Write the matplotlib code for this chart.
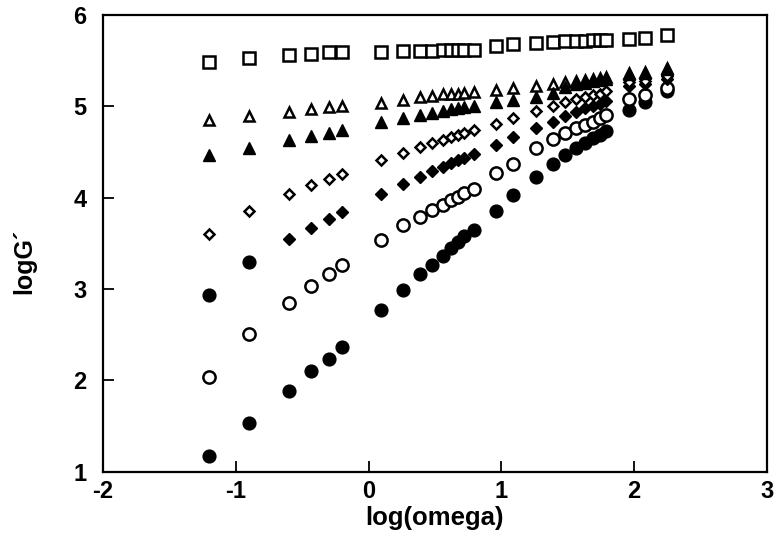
import matplotlib
matplotlib.use("Agg")
import matplotlib.pyplot as plt

plt.rcParams['font.family'] = ['Liberation Sans', 'DejaVu Sans']
plt.rcParams['font.weight'] = 'bold'
plt.rcParams['axes.unicode_minus'] = False

# log(omega) positions, five frequency sweeps
x_g1 = [-1.2, -0.9, -0.6, -0.43, -0.3, -0.2]
x_g2 = [0.09, 0.26, 0.39, 0.48, 0.56, 0.62, 0.67, 0.72, 0.79]
x_g3 = [0.96, 1.09]
x_g4 = [1.26, 1.385, 1.48, 1.56, 1.63, 1.69, 1.74, 1.79]
x_g5 = [1.96, 2.08, 2.25]
x_all = x_g1 + x_g2 + x_g3 + x_g4 + x_g5

# logG' values
sq_open = [5.49, 5.53, 5.56, 5.57, 5.59, 5.59,
           5.60, 5.61, 5.61, 5.61, 5.62, 5.62, 5.62, 5.62, 5.62,
           5.66, 5.68,
           5.69, 5.70, 5.71, 5.72, 5.72, 5.73, 5.73, 5.73,
           5.74, 5.75, 5.78]
tri_open = [4.85, 4.89, 4.94, 4.97, 4.99, 5.00,
            5.04, 5.07, 5.10, 5.11, 5.13, 5.14, 5.14, 5.15, 5.16,
            5.18, 5.20,
            5.22, 5.25, 5.27, 5.28, 5.29, 5.30, 5.31, 5.32,
            5.37, 5.38, 5.42]
tri_fill = [4.47, 4.54, 4.63, 4.68, 4.71, 4.74,
            4.83, 4.87, 4.90, 4.93, 4.95, 4.97, 4.98, 4.99, 5.00,
            5.05, 5.07,
            5.10, 5.15, 5.21, 5.24, 5.26, 5.28, 5.29, 5.30,
            5.35, 5.37, 5.41]
dia_open = [3.60, 3.86, 4.04, 4.14, 4.21, 4.26,
            4.41, 4.49, 4.55, 4.60, 4.63, 4.66, 4.69, 4.71, 4.74,
            4.81, 4.87,
            4.95, 5.00, 5.05, 5.08, 5.10, 5.12, 5.14, 5.17,
            5.27, 5.28, 5.33]
# filled diamonds start at x = -0.6; the two lowest-frequency points are drawn as filled circles
dia_fill = [3.55, 3.67, 3.77, 3.84,
            4.04, 4.15, 4.23, 4.29, 4.34, 4.38, 4.41, 4.44, 4.48,
            4.58, 4.66,
            4.76, 4.83, 4.89, 4.94, 4.98, 5.00, 5.03, 5.06,
            5.22, 5.24, 5.30]
dia_fill_extra_x = [-1.2, -0.9]
dia_fill_extra_y = [2.94, 3.30]
circ_open = [2.04, 2.51, 2.85, 3.03, 3.17, 3.26,
             3.54, 3.70, 3.79, 3.87, 3.92, 3.97, 4.01, 4.05, 4.10,
             4.27, 4.37,
             4.54, 4.64, 4.71, 4.76, 4.80, 4.83, 4.87, 4.91,
             5.08, 5.12, 5.20]
circ_fill = [1.17, 1.54, 1.88, 2.10, 2.24, 2.37,
             2.77, 2.99, 3.16, 3.26, 3.36, 3.45, 3.52, 3.58, 3.65,
             3.86, 4.03,
             4.23, 4.37, 4.47, 4.54, 4.60, 4.65, 4.69, 4.73,
             4.96, 5.05, 5.17]

fig = plt.figure(figsize=(7.74, 5.35), dpi=100)
ax = fig.add_axes([0.133, 0.118, 0.858, 0.854])

ew = 1.8
ax.plot(x_all, circ_fill, 'o', ms=9.2, color='black', ls='none')
ax.plot(dia_fill_extra_x, dia_fill_extra_y, 'o', ms=9.2, color='black', ls='none')
ax.plot(x_all, circ_open, 'o', ms=8.8, mfc='white', mec='black', mew=ew, ls='none')
ax.plot(x_all[2:], dia_fill, 'D', ms=5.8, color='black', ls='none')
ax.plot(x_all, dia_open, 'D', ms=5, mfc='white', mec='black', mew=ew, ls='none')
ax.plot(x_all, tri_open, '^', ms=7.5, mfc='white', mec='black', mew=ew, ls='none')
ax.plot(x_all, tri_fill, '^', ms=8.5, color='black', ls='none')
ax.plot(x_all, sq_open, 's', ms=8.5, mfc='white', mec='black', mew=ew, ls='none')

ax.set_xlim(-2, 3)
ax.set_ylim(1, 6)
ax.set_xticks([-2, -1, 0, 1, 2, 3])
ax.set_yticks([1, 2, 3, 4, 5, 6])
ax.tick_params(direction='in', length=8, width=1.3, labelsize=17, pad=6,
               top=False, right=False)
ax.tick_params(axis='y', pad=12)
for lab in ax.get_xticklabels() + ax.get_yticklabels():
    lab.set_fontweight('bold')
for s in ax.spines.values():
    s.set_linewidth(1.6)

ax.set_xlabel("log(omega)", fontsize=18.5, fontweight='bold')
ax.set_ylabel("logG\u00b4", fontsize=18, fontweight='bold')
ax.xaxis.set_label_coords(0.5, -0.075)
ax.yaxis.set_label_coords(-0.1, 0.46)

fig.savefig("out.png", dpi=100)
